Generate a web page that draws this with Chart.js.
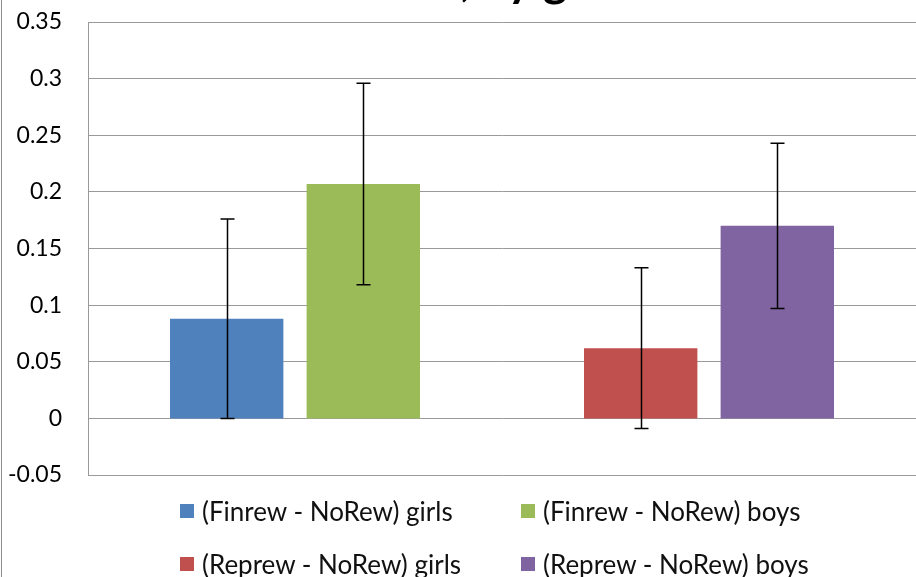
<!DOCTYPE html>
<html>
<head>
<meta charset="utf-8">
<script src="https://cdn.jsdelivr.net/npm/chart.js@4"></script>
<style>
  html, body { margin: 0; padding: 0; background: #fff; overflow: hidden; }
  #wrap { position: relative; width: 916px; height: 577px; }
  #edge { position: absolute; left: 1px; top: 0; width: 1px; height: 577px; background: #8c8c8c; }
  #legend {
    position: absolute; left: 180px; top: 497px;
    display: grid; grid-template-columns: 341px 320px; row-gap: 26px;
    font-family: Lato, sans-serif; font-size: 26px; color: #111;
  }
  .item { display: flex; align-items: center; height: 27px; white-space: nowrap; }
  .sw { width: 14px; height: 14px; margin-right: 8px; flex: none; }
</style>
</head>
<body>
<div id="wrap">
  <canvas id="chart" width="916" height="577"></canvas>
  <div id="edge"></div>
  <div id="legend"></div>
</div>
<script>
// Categories and series (differences vs. no-reward condition)
const categories = ['Finrew - NoRew', 'Reprew - NoRew'];
const seriesNames = ['(Finrew - NoRew) girls', '(Finrew - NoRew) boys', '(Reprew - NoRew) girls', '(Reprew - NoRew) boys'];
const seriesColors = ['#4F81BD', '#9BBB59', '#C0504D', '#8064A2'];

// Bar heights
const finGirls = [0.088, null];
const finBoys = [0.207, null];
const repGirls = [null, 0.062];
const repBoys = [null, 0.170];

// Error bar half-lengths
const finGirlsErr = [0.088, null];
const finBoysErr = [0.089, null];
const repGirlsErr = [null, 0.071];
const repBoysErr = [null, 0.073];

// Y axis
const yMin = -0.05;
const yMax = 0.35;
const yStep = 0.05;

const titleText = 'Reward effect, by gender';

const seriesValues = [finGirls, finBoys, repGirls, repBoys];
const seriesErrors = [finGirlsErr, finBoysErr, repGirlsErr, repBoysErr];

// Draws the error bars on top of the bars
const errorBars = {
    id: 'errorBars',
    afterDatasetsDraw(chart) {
        const ctx = chart.ctx;
        const y = chart.scales.y;
        ctx.save();
        ctx.strokeStyle = '#000';
        ctx.lineWidth = 1.5;
        chart.data.datasets.forEach((ds, i) => {
            const meta = chart.getDatasetMeta(i);
            meta.data.forEach((bar, j) => {
                const v = ds.data[j];
                const e = ds.errors[j];
                if (v == null || e == null) return;
                const top = y.getPixelForValue(v + e);
                const bot = y.getPixelForValue(v - e);
                const x = Math.round(bar.x) + 0.5;
                ctx.beginPath();
                ctx.moveTo(x, top);
                ctx.lineTo(x, bot);
                ctx.moveTo(x - 7, top);
                ctx.lineTo(x + 7, top);
                ctx.moveTo(x - 7, bot);
                ctx.lineTo(x + 7, bot);
                ctx.stroke();
            });
        });
        ctx.restore();
    }
};

// Title, mostly cut off above the top edge like in the original
const cutTitle = {
    id: 'cutTitle',
    afterDraw(chart) {
        const ctx = chart.ctx;
        ctx.save();
        ctx.font = 'bold 46px Lato, sans-serif';
        ctx.fillStyle = '#000';
        ctx.textBaseline = 'alphabetic';
        const before = titleText.slice(0, titleText.indexOf(',') + 1);
        const x0 = 471 - ctx.measureText(before).width;
        ctx.fillText(titleText, x0, -4);
        ctx.restore();
    }
};

const chart = new Chart(document.getElementById('chart'), {
    type: 'bar',
    data: {
        labels: categories,
        datasets: seriesNames.map((name, i) => ({
            label: name,
            data: seriesValues[i],
            errors: seriesErrors[i],
            backgroundColor: seriesColors[i],
            borderWidth: 0,
            skipNull: true,
            categoryPercentage: 0.66,
            barPercentage: 0.83
        }))
    },
    options: {
        responsive: false,
        animation: false,
        layout: { padding: { top: 22, bottom: 102, left: 0, right: 0 } },
        plugins: {
            legend: { display: false },
            tooltip: { enabled: false }
        },
        scales: {
            x: {
                ticks: { display: false },
                grid: { display: false, drawTicks: false },
                border: { display: false },
                afterFit(scale) { scale.height = 0; }
            },
            y: {
                min: yMin,
                max: yMax,
                ticks: {
                    stepSize: yStep,
                    padding: 26,
                    color: '#000',
                    font: { family: 'Lato, sans-serif', size: 23 },
                    callback: v => String(Number(v.toFixed(2)))
                },
                grid: { color: '#9a9a9a', lineWidth: 1, drawTicks: false },
                border: { display: true, color: '#9a9a9a' },
                afterFit(scale) {
                    scale.width = 88;
                    // tick padding is only wanted horizontally
                    scale.paddingTop = 0;
                    scale.paddingBottom = 0;
                }
            }
        }
    },
    plugins: [errorBars, cutTitle]
});

// Legend as two columns of HTML items
const legend = document.getElementById('legend');
chart.data.datasets.forEach(ds => {
    const item = document.createElement('div');
    item.className = 'item';
    const sw = document.createElement('span');
    sw.className = 'sw';
    sw.style.background = ds.backgroundColor;
    const label = document.createElement('span');
    label.textContent = ds.label;
    item.appendChild(sw);
    item.appendChild(label);
    legend.appendChild(item);
});
</script>
</body>
</html>
